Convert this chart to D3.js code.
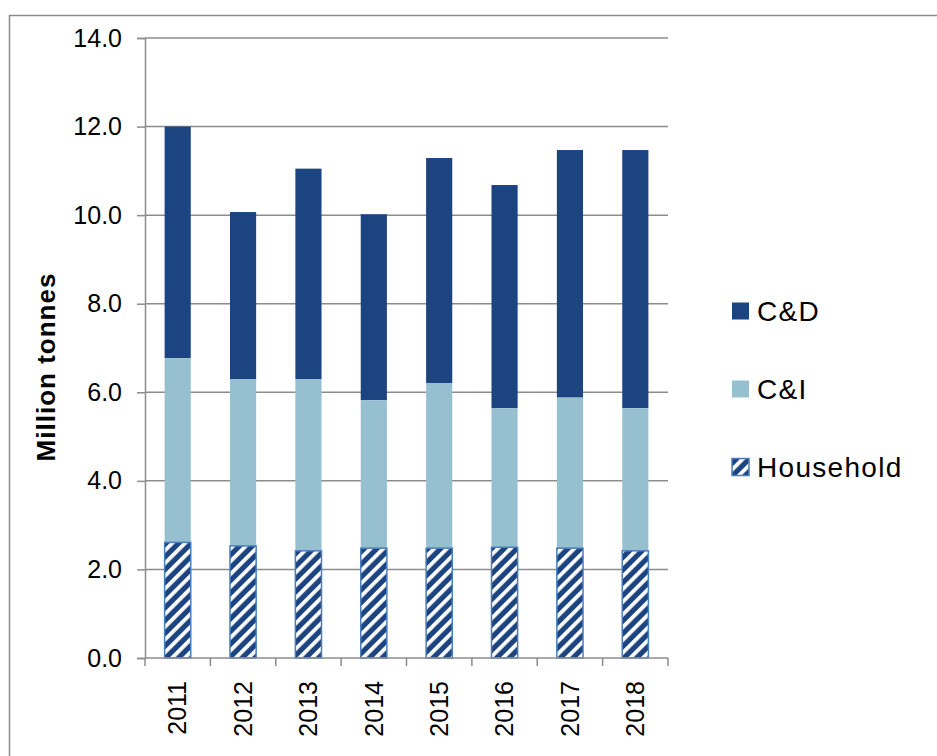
<!DOCTYPE html>
<html>
<head>
<meta charset="utf-8">
<script src="https://cdn.jsdelivr.net/npm/d3@7"></script>
<style>
  body { margin: 0; background: #fff; }
  text { font-family: "Liberation Sans", Arial, sans-serif; fill: #000; }
</style>
</head>
<body>
<div id="chart"></div>
<script>
// values (million tonnes)
var years = ["2011", "2012", "2013", "2014", "2015", "2016", "2017", "2018"];
var household = [2.61, 2.53, 2.42, 2.48, 2.48, 2.50, 2.48, 2.42];
var ci = [4.16, 3.77, 3.88, 3.34, 3.73, 3.14, 3.40, 3.22];
var cd = [5.23, 3.77, 4.75, 4.20, 5.08, 5.04, 5.59, 5.83];
var yTicks = [0, 2, 4, 6, 8, 10, 12, 14];
var legendNames = ["C&D", "C&I", "Household"];

var W = 937, H = 756;
var plot = { left: 145, right: 668, top: 38, bottom: 658 };

var x = d3.scaleBand()
    .domain(years)
    .range([plot.left, plot.right])
    .paddingInner(0.6)
    .paddingOuter(0.3);

var y = d3.scaleLinear()
    .domain([0, 14])
    .range([plot.bottom, plot.top]);

var svg = d3.select("#chart").append("svg")
    .attr("width", W)
    .attr("height", H);

// pattern for household
var defs = svg.append("defs");
var pat = defs.append("pattern")
    .attr("id", "hatch")
    .attr("patternUnits", "userSpaceOnUse")
    .attr("width", 9)
    .attr("height", 9)
    .attr("patternTransform", "rotate(45)");
pat.append("rect").attr("width", 9).attr("height", 9).attr("fill", "#1c4480");
pat.append("rect").attr("width", 3.8).attr("height", 9).attr("fill", "#fff");

// outer frame
svg.append("rect")
    .attr("x", 9.5).attr("y", 15.5)
    .attr("width", 1000).attr("height", 1000)
    .attr("fill", "none")
    .attr("stroke", "#8c8c8c")
    .attr("stroke-width", 1.5);

// gridlines
svg.append("g").selectAll("line")
    .data(yTicks.filter(d => d > 0))
    .enter().append("line")
    .attr("x1", plot.left).attr("x2", plot.right)
    .attr("y1", d => y(d)).attr("y2", d => y(d))
    .attr("stroke", "#8c8c8c")
    .attr("stroke-width", 1.5);

// stacks
var stacked = years.map((yr, i) => ({ year: yr, h: household[i], ci: ci[i], cd: cd[i] }));

var bars = svg.append("g");
bars.selectAll(".cd")
    .data(stacked).enter().append("rect")
    .attr("class", "cd")
    .attr("x", d => x(d.year))
    .attr("width", x.bandwidth())
    .attr("y", d => y(d.h + d.ci + d.cd))
    .attr("height", d => y(d.h + d.ci) - y(d.h + d.ci + d.cd))
    .attr("fill", "#1c4480");
bars.selectAll(".ci")
    .data(stacked).enter().append("rect")
    .attr("class", "ci")
    .attr("x", d => x(d.year))
    .attr("width", x.bandwidth())
    .attr("y", d => y(d.h + d.ci))
    .attr("height", d => y(d.h) - y(d.h + d.ci))
    .attr("fill", "#96c0d0");
bars.selectAll(".hh")
    .data(stacked).enter().append("rect")
    .attr("class", "hh")
    .attr("x", d => x(d.year))
    .attr("width", x.bandwidth())
    .attr("y", d => y(d.h))
    .attr("height", d => y(0) - y(d.h))
    .attr("fill", "url(#hatch)")
    .attr("stroke", "#4a7ebb")
    .attr("stroke-width", 1.5);

// y axis
var yAxis = svg.append("g")
    .attr("transform", "translate(" + plot.left + ",0)")
    .call(d3.axisLeft(y).tickValues(yTicks).tickFormat(d3.format(".1f")).tickSize(8).tickPadding(15));
yAxis.select(".domain").attr("stroke", "#8c8c8c").attr("stroke-width", 1.5);
yAxis.selectAll(".tick line").attr("stroke", "#8c8c8c").attr("stroke-width", 1.5);
yAxis.selectAll("text").style("font-size", "25px").attr("fill", "#000");

// x axis
var xAxisG = svg.append("g");
xAxisG.append("line")
    .attr("x1", plot.left).attr("x2", plot.right)
    .attr("y1", plot.bottom).attr("y2", plot.bottom)
    .attr("stroke", "#8c8c8c").attr("stroke-width", 1.5);
var step = x.step();
var bounds = d3.range(years.length + 1).map(i => plot.left + i * step);
xAxisG.selectAll(".xt").data(bounds).enter().append("line")
    .attr("x1", d => d).attr("x2", d => d)
    .attr("y1", plot.bottom).attr("y2", plot.bottom + 8)
    .attr("stroke", "#8c8c8c").attr("stroke-width", 1.5);
xAxisG.selectAll(".xl").data(years).enter().append("text")
    .attr("transform", d => "translate(" + (x(d) + x.bandwidth() / 2) + "," + 681 + ") rotate(-90)")
    .attr("text-anchor", "end")
    .attr("dy", "0.35em")
    .style("font-size", "25px")
    .text(d => d);

// y title
svg.append("text")
    .attr("transform", "translate(46,367) rotate(-90)")
    .attr("text-anchor", "middle")
    .attr("dy", "0.35em")
    .style("font-size", "26px")
    .style("font-weight", "bold")
    .style("letter-spacing", "1px")
    .text("Million tonnes");

// legend
var legendFill = ["#1c4480", "#96c0d0", "url(#hatch)"];
var leg = svg.append("g").selectAll("g")
    .data(legendNames).enter().append("g")
    .attr("transform", (d, i) => "translate(732," + (311 + i * 78) + ")");
leg.append("rect")
    .attr("x", 0).attr("y", -8.5)
    .attr("width", 17).attr("height", 17)
    .attr("fill", (d, i) => legendFill[i])
    .attr("stroke", (d, i) => i === 2 ? "#4a7ebb" : "none")
    .attr("stroke-width", 1.5);
leg.append("text")
    .attr("x", 25)
    .attr("dy", "0.36em")
    .style("font-size", "28px")
    .style("letter-spacing", "1.3px")
    .text(d => d);
</script>
</body>
</html>
